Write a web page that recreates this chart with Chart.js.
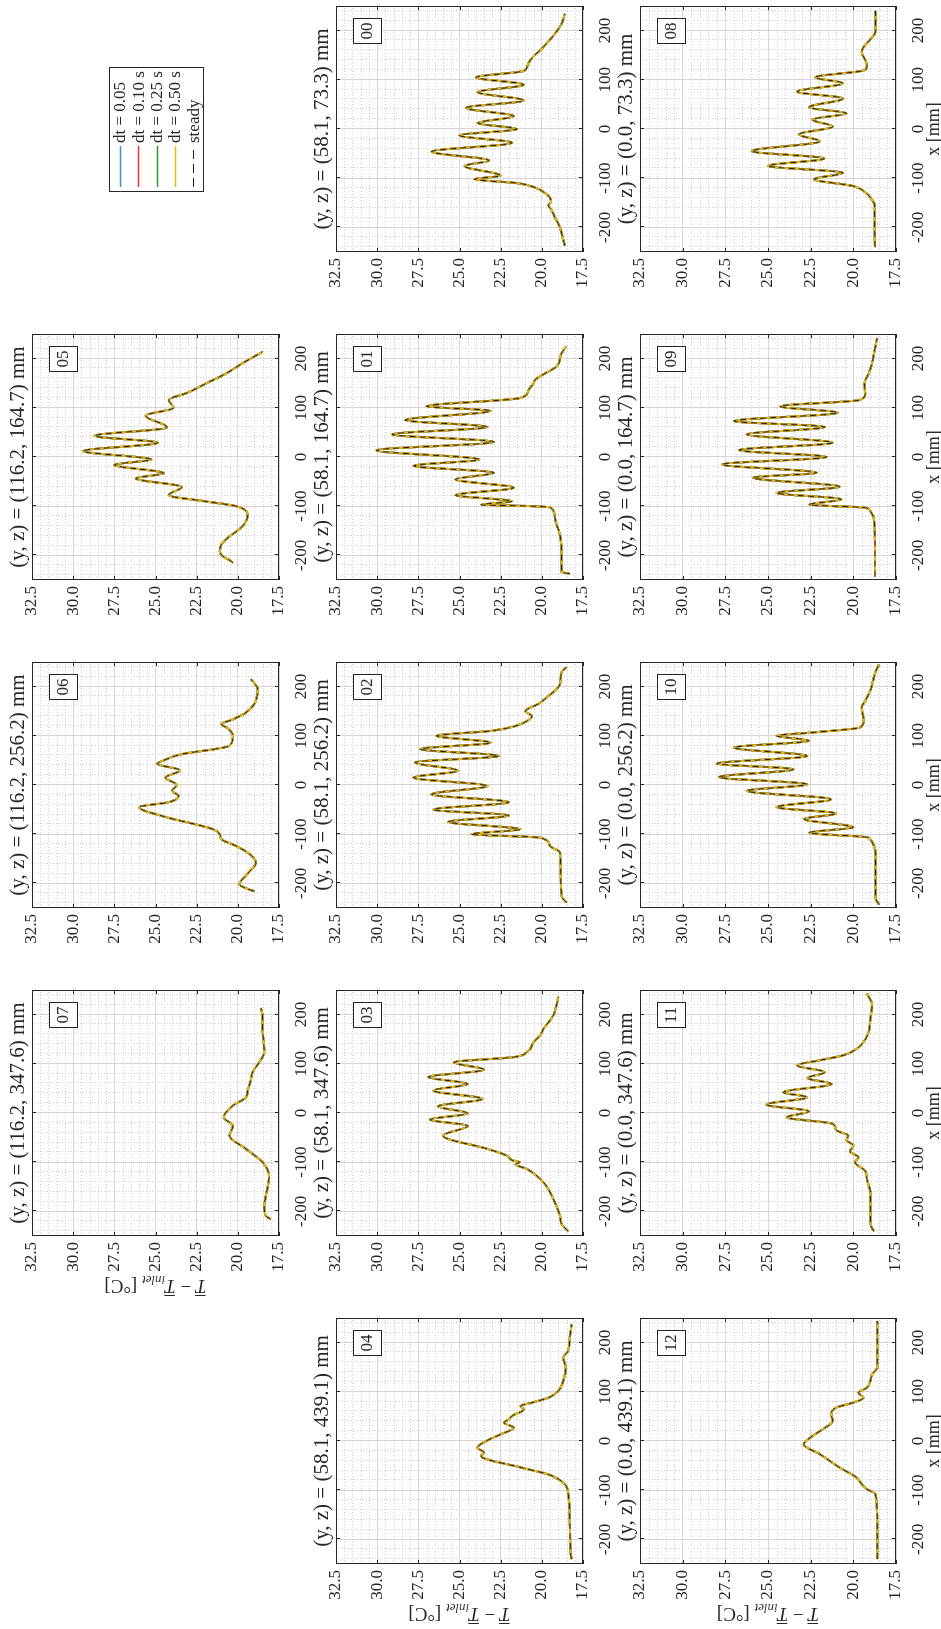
<!DOCTYPE html>
<html><head><meta charset="utf-8">
<script src="https://cdn.jsdelivr.net/npm/chart.js@4/dist/chart.umd.min.js"></script>
<style>
html,body{margin:0;padding:0;background:#fff;}
body{width:941px;height:1629px;overflow:hidden;position:relative;}
#fig{position:absolute;left:0;top:0;width:1629px;height:941px;transform-origin:0 0;transform:translate(0px,1629px) rotate(-90deg);background:#fff;}
#fig canvas{position:absolute;}
</style></head><body><div id="fig"></div>
<script>
// ---------- data ----------
const seriesLabels = ['dt = 0.05', 'dt = 0.10 s', 'dt = 0.25 s', 'dt = 0.50 s', 'steady'];
const seriesColors = ['#3d8fd6', '#f23232', '#27a027', '#efb41c', '#1a1a1a'];
const xTickValues = [-200, -100, 0, 100, 200];
const tTickValues = [17.5, 20, 22.5, 25, 27.5, 30, 32.5];

const x00 = [-237,-225,-200,-180,-165,-155,-148,-140,-128,-118,-110,-102,-95,-75,-64,-46,-28,-13,0,12,26,43,58,75,90,105,118,126,140,167,194,214,234];
const t00 = [18.6,18.7,18.9,19.2,19.4,19.6,19.45,19.5,19.9,20.5,21.5,24.1,22.5,24.7,23.2,26.7,21.8,25.0,21.5,23.9,21.7,24.6,21.1,23.9,21.1,24.0,21.1,20.9,20.7,19.9,19.2,18.8,18.6];

const x01 = [-237,-234,-199,-158,-124,-103,-100,-97,-90,-77.5,-62.5,-45.6,-32,-18,-5,13.6,30.6,46,61,75,94,103,120,136,150,157,170,184,211,225];
const t01 = [18.3,18.8,18.8,18.9,19.2,19.45,20.5,23.7,21.8,25.25,21.7,25.25,22.9,27.8,23.8,30.05,22.9,29.1,23.3,28.3,23.1,27.0,21.3,20.8,20.5,20.4,19.8,19.1,18.8,18.5];

const x02 = [-239,-226,-180,-137,-124,-107,-100,-90,-75,-62,-50,-35,-19,-2,15,29,46,59,73,86,100,110,118,130,140,150,165,178,205,230,239];
const t02 = [18.5,18.8,18.85,18.9,19.5,20.1,24.3,21.3,25.7,22.0,26.6,22.0,26.7,23.3,27.8,25.1,27.7,22.6,27.4,23.1,26.4,23.1,21.8,20.9,20.6,21.0,20.2,19.7,18.9,18.8,18.5];

const x03 = [-240,-226,-209,-175,-141,-114,-104,-100,-96,-87,-73,-46,-26,-13.6,-0.7,13.6,28.6,45.6,59,73,88,103,113.6,124,144,158,171,198.6,220,236];
const t03 = [18.4,18.8,18.9,19.3,19.9,20.9,21.6,21.35,21.8,22.1,23.3,26.0,24.5,26.8,24.5,26.3,23.6,26.6,24.5,26.9,23.5,25.35,21.7,20.9,20.5,20.1,19.9,19.3,19.1,19.0];

const x04 = [-240,-230,-163,-108,-88,-68,-54,-30,-24,-13.6,3,13.6,27,37,44,51,64,71,78,88,101.7,122,149,169.5,183,210,237];
const t04 = [18.2,18.25,18.3,18.4,18.6,19.6,21.25,23.7,23.5,23.9,23.2,22.5,21.7,22.3,22.0,21.8,21.1,21.3,20.6,19.6,19.0,18.7,18.55,18.7,18.4,18.3,18.2];

const x05 = [-215,-212,-202,-192,-178,-161,-154,-140,-130,-120,-100,-90,-77.5,-61,-43.5,-33,-16,-5,12,29,43,60,84,100,116,130,150,170,191,208,214];
const t05 = [20.3,20.4,20.9,21.1,21.0,20.5,20.2,19.7,19.5,19.4,20.1,22.0,24.2,23.4,26.2,24.5,27.5,25.25,29.4,24.85,28.7,24.3,25.6,23.9,24.2,23.1,21.9,20.7,19.7,18.8,18.5];

const x06 = [-216,-210,-202,-180,-158,-140,-124,-110,-100,-90,-64,-45,-35,-22,-12,0,15,30,43,50,62,80,100,115,124,132,145,165,195,215];
const t06 = [19.0,19.5,19.9,19.4,18.9,19.3,20.1,21.0,21.1,21.5,24.5,26.0,24.2,23.6,24.0,23.7,24.4,23.5,24.9,24.5,23.5,20.5,20.3,20.6,21.0,20.4,19.6,19.0,18.8,19.2];

const x07 = [-216,-209,-189,-169,-128,-100,-73,-46,-26,-9,15,32,45.6,56,69,83,103,124,150,171,198.6,213.5];
const t07 = [18.0,18.3,18.4,18.3,18.1,18.5,19.5,20.5,20.3,20.85,20.3,19.5,19.4,19.3,19.2,19.1,18.7,18.4,18.45,18.5,18.5,18.6];

const x08 = [-240,-200,-156,-139,-126,-116,-102,-89,-75,-60,-45,-25,-11,5,19,32,44,62,76,93,105,120,130,157,200,240];
const t08 = [18.73,18.75,18.75,19.0,19.4,20.0,22.3,20.6,25.0,21.7,25.96,21.95,23.2,21.2,22.4,20.4,22.6,20.6,23.3,20.6,22.25,19.3,19.2,19.5,18.7,18.7];

const x09 = [-243,-180,-124,-110,-103,-97,-86,-73,-60.5,-42,-32,-15,0,14,29,46,61,73,90,103,116,130,150,170,191,218,242];
const t09 = [18.73,18.73,18.8,19.0,19.3,22.6,20.7,24.5,20.8,25.9,22.15,27.7,21.56,26.7,21.2,26.25,21.66,27.0,20.9,24.3,19.6,19.3,19.35,19.1,18.9,18.75,18.6];

const x10 = [-243,-229,-150,-107,-97,-86,-69,-58,-45,-29,-12,1.4,16,32,43.5,59,76,90,100,107,117,130.6,158,171,192,230,245];
const t10 = [18.5,18.7,18.7,19.1,22.6,20.0,22.9,21.0,24.5,21.3,26.25,22.7,27.9,23.5,28.0,22.7,27.0,22.6,24.5,22.3,19.6,19.4,19.5,19.3,19.0,18.7,18.5];

const x11 = [-240,-226,-196,-162,-135,-118,-100,-90,-78,-66,-55,-46,-35,-22,-8.8,3.4,17,32,42,59,71,83,96.6,107,117,130.6,144,165,192,219,243];
const t11 = [18.8,19.0,19.0,19.0,19.2,19.3,19.9,19.7,20.2,20.0,20.4,20.3,21.0,21.2,23.9,22.6,25.1,22.7,24.1,21.27,22.7,21.66,23.3,22.0,20.6,19.8,19.4,19.1,19.0,18.9,19.2];

const x12 = [-240,-160,-108,-98,-88,-74.6,-54,-27,-7,10,23.7,40.7,54,68,78,88,98,108.5,122,135.6,149,200,244];
const t12 = [18.6,18.6,18.7,19.2,19.5,19.8,20.8,21.95,22.9,22.4,21.8,21.2,21.3,21.0,20.0,19.4,19.7,19.2,19.0,18.9,18.6,18.6,18.6];

const panelIds = ['00','01','02','03','04','05','06','07','08','09','10','11','12'];
const panelYZ  = ['(58.1, 73.3)','(58.1, 164.7)','(58.1, 256.2)','(58.1, 347.6)','(58.1, 439.1)',
                  '(116.2, 164.7)','(116.2, 256.2)','(116.2, 347.6)',
                  '(0.0, 73.3)','(0.0, 164.7)','(0.0, 256.2)','(0.0, 347.6)','(0.0, 439.1)'];
const panelX = [x00,x01,x02,x03,x04,x05,x06,x07,x08,x09,x10,x11,x12];
const panelT = [t00,t01,t02,t03,t04,t05,t06,t07,t08,t09,t10,t11,t12];

// ---------- layout (landscape figure, rotated into the page) ----------
const colLeft = [65, 393, 721, 1049, 1377];
const rowTop = [32, 336, 640];
const rowH = [247, 247, 256];
const plotW = 246;
const place = { '07':[1,0], '06':[2,0], '05':[3,0],
                '04':[0,1], '03':[1,1], '02':[2,1], '01':[3,1], '00':[4,1],
                '12':[0,2], '11':[1,2], '10':[2,2], '09':[3,2], '08':[4,2] };

const FAM = '"Liberation Serif", "Times New Roman", serif';
const INK = '#262626';
const GRID = '#d6d6d6';
const MINOR = '#cdcdcd';
const fig = document.getElementById('fig');

function drawYLabel(ctx, cx, cy) {
  ctx.save();
  ctx.translate(cx, cy);
  ctx.rotate(-Math.PI / 2);
  const parts = [
    {t: 'T', f: 'italic 19px ' + FAM, over: true},
    {t: ' \u2212 ', f: '19px ' + FAM},
    {t: 'T', f: 'italic 19px ' + FAM, over: true},
    {t: 'inlet', f: 'italic 13px ' + FAM, sub: true},
    {t: ' [\u00B0C]', f: '19px ' + FAM}
  ];
  let total = 0;
  parts.forEach(p => { ctx.font = p.f; p.w = ctx.measureText(p.t).width; total += p.w; });
  let x = -total / 2;
  const base = 6;
  ctx.fillStyle = INK; ctx.strokeStyle = INK; ctx.lineWidth = 1;
  ctx.textBaseline = 'alphabetic'; ctx.textAlign = 'left';
  parts.forEach(p => {
    ctx.font = p.f;
    ctx.fillText(p.t, x, p.sub ? base + 4 : base);
    if (p.over) { ctx.beginPath(); ctx.moveTo(x + 1, base - 15.5); ctx.lineTo(x + p.w + 1, base - 15.5); ctx.stroke(); }
    x += p.w;
  });
  ctx.restore();
}

const decor = {
  id: 'decor',
  beforeDatasetsDraw(chart) {
    const {ctx, chartArea: a, scales: {x, y}} = chart;
    ctx.save();
    ctx.strokeStyle = MINOR; ctx.lineWidth = 1; ctx.setLineDash([1, 2]);
    ctx.beginPath();
    for (let v = -240; v <= 240; v += 20) {
      if (v % 100 === 0) continue;
      const py = Math.round(x.getPixelForValue(v)) + 0.5;
      ctx.moveTo(py, a.top); ctx.lineTo(py, a.bottom);
    }
    for (let k = 1; k < 30; k++) {
      if (k % 5 === 0) continue;
      const v = 17.5 + k * 0.5;
      const py = Math.round(y.getPixelForValue(v)) + 0.5;
      ctx.moveTo(a.left, py); ctx.lineTo(a.right, py);
    }
    ctx.stroke();
    ctx.restore();
  },
  afterDatasetsDraw(chart, args, o) {
    const {ctx, chartArea: a, scales: {x, y}} = chart;
    ctx.save();
    ctx.strokeStyle = INK; ctx.lineWidth = 1; ctx.setLineDash([]);
    ctx.strokeRect(a.left + 0.5, a.top + 0.5, a.right - a.left - 1, a.bottom - a.top - 1);
    ctx.beginPath();
    xTickValues.forEach(v => { const p = Math.round(x.getPixelForValue(v)) + 0.5;
      ctx.moveTo(p, a.bottom); ctx.lineTo(p, a.bottom - 4); ctx.moveTo(p, a.top); ctx.lineTo(p, a.top + 4); });
    tTickValues.forEach(v => { const p = Math.round(y.getPixelForValue(v)) + 0.5;
      ctx.moveTo(a.left, p); ctx.lineTo(a.left + 4, p); ctx.moveTo(a.right, p); ctx.lineTo(a.right - 4, p); });
    ctx.stroke();
    // title
    ctx.fillStyle = INK;
    ctx.font = '21px ' + FAM; ctx.textAlign = 'center'; ctx.textBaseline = 'alphabetic';
    ctx.fillText(o.title, (a.left + a.right) / 2, a.top - 8);
    // panel id box
    ctx.font = '17px ' + FAM;
    const bw = 25, bh = 28, bx = a.right - 13 - bw, by = a.top + 17;
    ctx.fillStyle = '#fff'; ctx.fillRect(bx, by, bw, bh);
    ctx.strokeRect(Math.round(bx) + 0.5, Math.round(by) + 0.5, bw, bh);
    ctx.fillStyle = INK; ctx.textBaseline = 'middle';
    ctx.fillText(o.id, bx + bw / 2 + 0.5, by + bh / 2 + 1);
    if (o.xlab) {
      ctx.font = '18px ' + FAM; ctx.textBaseline = 'middle';
      ctx.fillText('x [mm]', (a.left + a.right) / 2, a.bottom + 38);
    }
    if (o.ylab) drawYLabel(ctx, a.left - 50, (a.top + a.bottom) / 2);
    ctx.restore();
  }
};

function makePanel(i) {
  const id = panelIds[i];
  const [c, r] = place[id];
  const L = colLeft[c], T = rowTop[r], W = plotW, H = rowH[r];
  const padL = 75, padT = 34, padR = 8, padB = 48;
  const cv = document.createElement('canvas');
  cv.width = W + padL + padR; cv.height = H + padT + padB;
  cv.style.left = (L - padL) + 'px'; cv.style.top = (T - padT) + 'px';
  fig.appendChild(cv);
  const xs = panelX[i], ts = panelT[i];
  new Chart(cv, {
    type: 'line',
    data: { datasets: seriesLabels.map((lab, k) => ({
      label: lab,
      data: xs.map((xv, j) => ({x: xv, y: ts[j]})),
      borderColor: seriesColors[k],
      borderWidth: k === 4 ? 1 : 2,
      borderDash: k === 4 ? [6, 4] : [],
      pointRadius: 0, fill: false,
      cubicInterpolationMode: 'monotone',
      order: 4 - k
    })) },
    options: {
      responsive: false, animation: false, events: [],
      layout: { padding: { top: padT, right: padR, left: 0, bottom: 0 } },
      plugins: { legend: {display: false}, tooltip: {enabled: false}, title: {display: false},
                 decor: { title: '(y, z) = ' + panelYZ[i] + ' mm', id: id, xlab: r === 2, ylab: (id === '07' || c === 0) } },
      scales: {
        x: { type: 'linear', min: -250, max: 250,
             afterBuildTicks: s => { s.ticks = xTickValues.map(v => ({value: v})); },
             afterFit: s => { s.height = padB; },
             grid: { color: GRID, drawTicks: false, lineWidth: 1 }, border: { display: false },
             ticks: { padding: 12, color: INK, autoSkip: false, maxRotation: 0, font: { family: FAM, size: 17 }, callback: v => String(v) } },
        y: { type: 'linear', min: 17.5, max: 32.5,
             afterBuildTicks: s => { s.ticks = tTickValues.map(v => ({value: v})); },
             afterFit: s => { s.width = padL; },
             grid: { color: GRID, drawTicks: false, lineWidth: 1 }, border: { display: false },
             ticks: { padding: 6, color: INK, autoSkip: false, font: { family: FAM, size: 17 }, callback: v => Number(v).toFixed(1) } }
      }
    },
    plugins: [decor]
  });
}
panelIds.forEach((id, i) => makePanel(i));

// ---------- legend ----------
const legendPlugin = {
  id: 'legendBox',
  afterDraw(chart) {
    const ctx = chart.ctx;
    const bx = 7, by = 7, bw = 124, bh = 94;
    ctx.save();
    ctx.fillStyle = '#fff'; ctx.fillRect(bx, by, bw, bh);
    ctx.strokeStyle = INK; ctx.lineWidth = 1; ctx.strokeRect(bx + 0.5, by + 0.5, bw, bh);
    ctx.font = '17px ' + FAM; ctx.textBaseline = 'middle'; ctx.textAlign = 'left';
    chart.data.datasets.forEach((ds, k) => {
      const yy = by + 11 + k * 18.3;
      ctx.strokeStyle = ds.borderColor; ctx.lineWidth = k === 4 ? 1 : 1.5;
      ctx.setLineDash(k === 4 ? [9, 5] : []);
      ctx.beginPath(); ctx.moveTo(bx + 5, Math.round(yy) + 0.5); ctx.lineTo(bx + 46, Math.round(yy) + 0.5); ctx.stroke();
      ctx.setLineDash([]);
      ctx.fillStyle = INK; ctx.fillText(ds.label, bx + 49, yy + 1);
    });
    ctx.restore();
  }
};
const lc = document.createElement('canvas');
lc.width = 140; lc.height = 110;
lc.style.left = '1430px'; lc.style.top = '102px';
fig.appendChild(lc);
new Chart(lc, {
  type: 'line',
  data: { datasets: seriesLabels.map((lab, k) => ({ label: lab, data: [], borderColor: seriesColors[k], borderDash: k === 4 ? [6, 4] : [] })) },
  options: { responsive: false, animation: false, events: [],
    plugins: { legend: {display: false}, tooltip: {enabled: false} },
    scales: { x: {display: false}, y: {display: false} } },
  plugins: [legendPlugin]
});
</script></body></html>
